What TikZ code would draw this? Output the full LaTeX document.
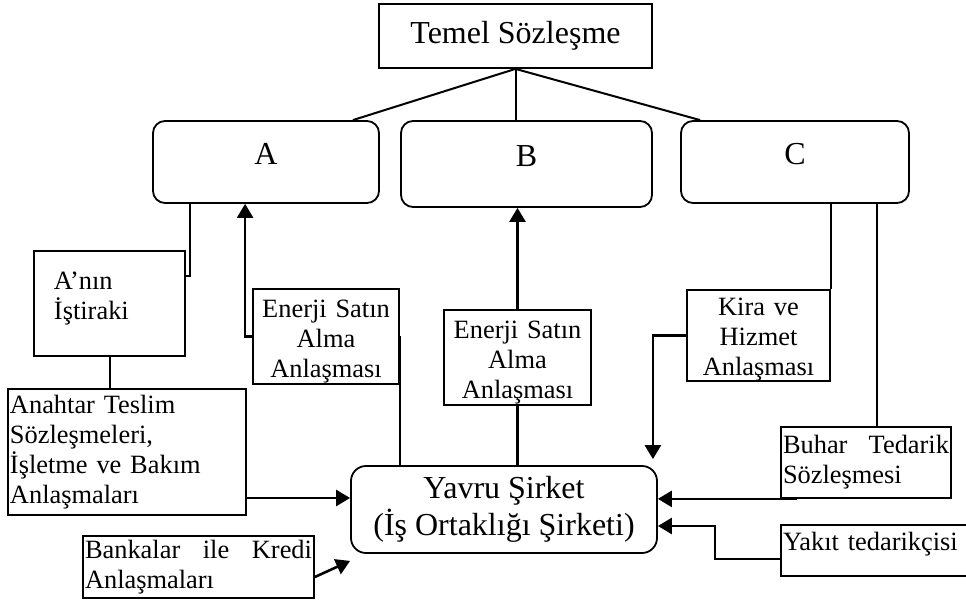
\documentclass[tikz,border=0pt]{standalone}
\usepackage{fontspec}
\setmainfont{Liberation Serif}
\usetikzlibrary{arrows.meta}
\newcommand{\txtsmall}{\fontsize{13.2}{15}\selectfont}
\newcommand{\txtbig}{\fontsize{16}{18.5}\selectfont}

\begin{document}
\begin{tikzpicture}[x=0.5pt,y=-0.5pt,
    box/.style={draw,line width=0.9pt,inner sep=1pt,font=\txtsmall},
    rbox/.style={draw,line width=0.9pt,rounded corners=6pt,font=\txtbig},
    ln/.style={line width=1pt},
    arr/.style={line width=1.3pt,-{Triangle[length=7pt,width=8pt]}}]

    \useasboundingbox (0,0) rectangle (966,603);

    % Draw top contract and partners
    \node[box,minimum width=136.5pt,minimum height=32pt,font=\txtbig] (temel) at (515.5,36) {Temel Sözleşme};
    \node[rbox,minimum width=113pt,minimum height=41pt,text depth=8pt] (A) at (266,162) {A};
    \node[rbox,minimum width=125.5pt,minimum height=43pt,text depth=8pt] (B) at (526.5,164) {B};
    \node[rbox,minimum width=114pt,minimum height=41pt,text depth=8pt] (C) at (795,162) {C};

    % Draw contract boxes
    \node[box,minimum width=75.5pt,minimum height=52.5pt,inner xsep=10pt,text width=55.5pt,align=left] (anin) at (109.5,303.5) {A’nın\\İştiraki\rule[-8pt]{0pt}{8pt}};
    \node[box,inner ysep=0pt,minimum width=73pt,minimum height=47.5pt,text width=71pt,align=center] (enerjiA) at (326,336.5) {\rule{0pt}{14pt}Enerji Satın\\Alma\\Anlaşması};
    \node[box,inner ysep=0pt,minimum width=73.5pt,minimum height=47.5pt,text width=71.5pt,align=center] (enerjiB) at (517.5,357.5) {\rule{0pt}{14pt}Enerji Satın\\Alma\\Anlaşması};
    \node[box,inner ysep=0pt,minimum width=71.5pt,minimum height=45.5pt,text width=69.5pt,align=center] (kira) at (758.5,335.5) {\rule{0pt}{13pt}Kira ve\\Hizmet\\Anlaşması};
    \node[box,minimum width=119pt,minimum height=63pt,text width=117pt,align=left] (anahtar) at (127,452) {Anahtar Teslim\\Sözleşmeleri,\\İşletme ve Bakım\\Anlaşmaları};
    \node[box,minimum width=85pt,minimum height=35.5pt,text width=83pt,align=left] (buhar) at (866,462.5) {Buhar\hspace{\fill}Tedarik\\Sözleşmesi};
    \node[box,minimum width=115.5pt,minimum height=31pt,text width=113.5pt,align=left] (bankalar) at (198.5,567) {Bankalar\hspace{\fill}ile\hspace{\fill}Kredi\\Anlaşmaları};
    \node[box,minimum width=100pt,minimum height=25.5pt,text width=98pt,align=left] (yakit) at (881,550.5) {Yakıt tedarikçisi\rule[-9pt]{0pt}{9pt}};

    % Draw subsidiary
    \node[rbox,rounded corners=7.5pt,minimum width=153pt,minimum height=43.5pt,align=center] (yavru) at (504,509.5) {Yavru Şirket\\(İş Ortaklığı Şirketi)};

    % Lines from top contract
    \draw[ln] (temel.south) -- ([xshift=-13.5pt]A.north east);
    \draw[ln] (temel.south) -- (temel.south |- B.north);
    \draw[ln] (temel.south) -- ([xshift=10pt]C.north west);

    % Left side
    \draw[ln] ([xshift=19pt]A.south west) |- ([yshift=13.75pt]anin.east);
    \draw[ln] (anin.south) -- (anin.south |- anahtar.north);
    \draw[arr] (enerjiA.west) -| ([xshift=46.5pt]A.south west);
    \draw[ln,line width=1.3pt] (enerjiA.east) -- (enerjiA.east |- yavru.north);
    \draw[arr] ([yshift=-23pt]anahtar.east) -- ([yshift=5.75pt]yavru.west);
    \draw[arr] ([yshift=-5pt]bankalar.east) -- ([yshift=-3.5pt]yavru.south west);

    % Middle
    \draw[arr] (enerjiB.north) -- (enerjiB.north |- B.south);
    \draw[ln,line width=1.3pt] (enerjiB.south) -- (enerjiB.south |- yavru.north);

    % Right side
    \draw[ln] (kira.north east) -- (kira.north east |- C.south);
    \draw[arr] (kira.west) -| ([xshift=-2.5pt,yshift=3pt]yavru.north east);
    \draw[ln] ([xshift=5.5pt]buhar.north) -- ([xshift=5.5pt]buhar.north |- C.south);
    \draw[arr] ([xshift=8.5pt]buhar.south west) -- (buhar.south west -| yavru.east);
    \draw[arr] ([yshift=-4.25pt]yakit.west) -- ++(-65,0) |- ([yshift=-8.25pt]yavru.east);
\end{tikzpicture}
\end{document}
